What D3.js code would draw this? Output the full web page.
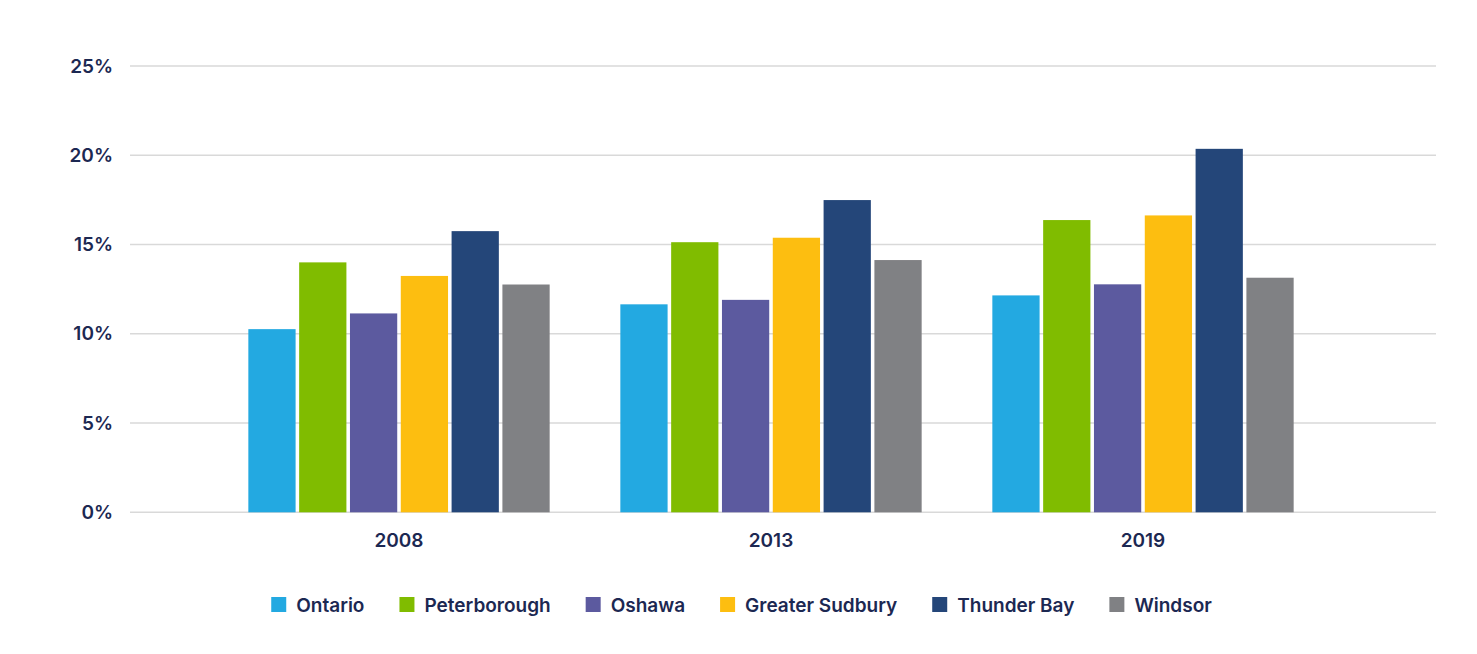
<!DOCTYPE html>
<html>
<head>
<meta charset="utf-8">
<script src="https://cdn.jsdelivr.net/npm/d3@7"></script>
<style>
  body { margin: 0; background: #fff; }
  text { font-family: "Inter", "Roboto", sans-serif; font-weight: 600; fill: #1c2852; }
</style>
</head>
<body>
<div id="chart"></div>
<script>
// data
var years = ["2008", "2013", "2019"];
var cities = ["Ontario", "Peterborough", "Oshawa", "Greater Sudbury", "Thunder Bay", "Windsor"];
var ontario      = [10.26, 11.65, 12.15];
var peterborough = [14.0, 15.13, 16.37];
var oshawa       = [11.14, 11.9, 12.77];
var sudbury      = [13.24, 15.38, 16.63];
var thunderBay   = [15.75, 17.49, 20.36];
var windsor      = [12.76, 14.13, 13.14];
var yTicks = [0, 5, 10, 15, 20, 25];
var colors = ["#23a9e1", "#80bc00", "#5c5a9f", "#fdbe10", "#244679", "#808184"];

var series = [ontario, peterborough, oshawa, sudbury, thunderBay, windsor];

var svg = d3.select("#chart").append("svg")
  .attr("width", 1477)
  .attr("height", 654);

var x0 = d3.scaleBand()
  .domain(years)
  .range([213, 1329])
  .paddingInner(0.19)
  .paddingOuter(0.095);

var x1 = d3.scaleBand()
  .domain(cities)
  .range([0, x0.bandwidth()])
  .paddingInner(0.07)
  .paddingOuter(0);

var y = d3.scaleLinear()
  .domain([0, 25])
  .range([512.3, 66]);

var z = d3.scaleOrdinal().domain(cities).range(colors);

// gridlines
svg.append("g")
  .selectAll("line")
  .data(yTicks)
  .enter().append("line")
    .attr("x1", 130)
    .attr("x2", 1436)
    .attr("y1", function(d) { return y(d); })
    .attr("y2", function(d) { return y(d); })
    .attr("stroke", "#d9d9d9")
    .attr("stroke-width", 1.5);

// y tick labels
svg.append("g")
  .selectAll("text")
  .data(yTicks)
  .enter().append("text")
    .attr("x", 113)
    .attr("y", function(d) { return y(d); })
    .attr("dy", "0.35em")
    .attr("text-anchor", "end")
    .attr("font-size", 19)
    .text(function(d) { return d + "%"; });

// bars
svg.append("g")
  .selectAll("g")
  .data(years)
  .enter().append("g")
    .attr("transform", function(d) { return "translate(" + x0(d) + ",0)"; })
  .selectAll("rect")
  .data(function(d, i) { return cities.map(function(c, k) { return {key: c, value: series[k][i]}; }); })
  .enter().append("rect")
    .attr("x", function(d) { return x1(d.key); })
    .attr("width", x1.bandwidth())
    .attr("y", function(d) { return y(d.value); })
    .attr("height", function(d) { return y(0) - y(d.value); })
    .attr("fill", function(d) { return z(d.key); });

// x labels
svg.append("g")
  .selectAll("text")
  .data(years)
  .enter().append("text")
    .attr("x", function(d) { return x0(d) + x0.bandwidth() / 2; })
    .attr("y", 540)
    .attr("dy", "0.35em")
    .attr("text-anchor", "middle")
    .attr("font-size", 19)
    .text(function(d) { return d; });

// legend
var legend = svg.append("g");
var items = legend.selectAll("g")
  .data(cities)
  .enter().append("g");

items.append("rect")
  .attr("width", 15)
  .attr("height", 15)
  .attr("y", 597)
  .attr("fill", z);

items.append("text")
  .attr("x", 25)
  .attr("y", 605)
  .attr("dy", "0.35em")
  .attr("font-size", 19)
  .text(function(d) { return d; });

var pos = 0, offsets = [];
items.each(function() {
  offsets.push(pos);
  pos += 25 + this.querySelector("text").getComputedTextLength() + 35;
});
var total = pos - 35;
var start = 741.5 - total / 2;
items.attr("transform", function(d, i) { return "translate(" + (start + offsets[i]) + ",0)"; });
</script>
</body>
</html>
